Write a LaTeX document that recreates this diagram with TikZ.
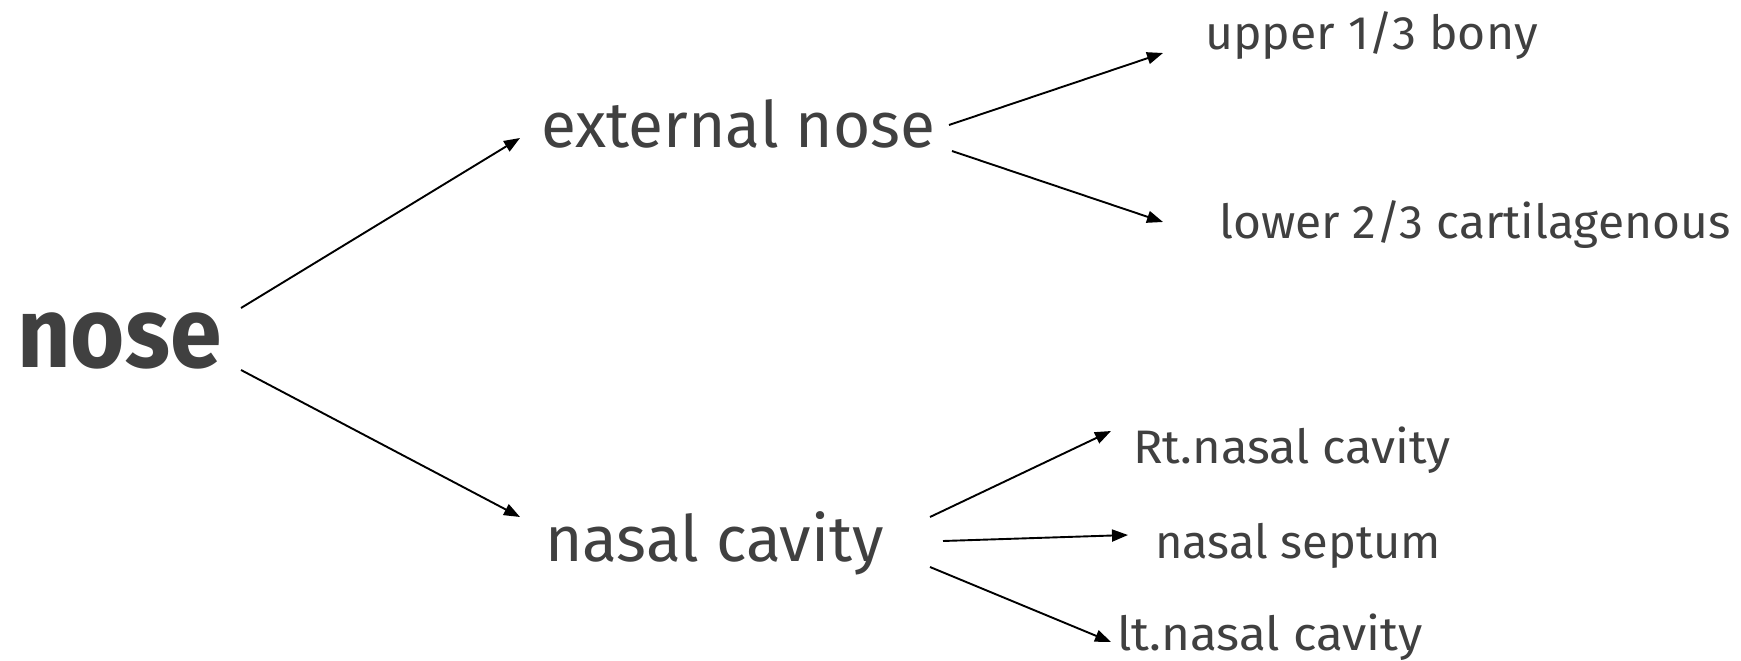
\documentclass[tikz,border=0pt]{standalone}
\usepackage{fontspec}
\setmainfont{Fira Sans}
\usetikzlibrary{arrows.meta}
\definecolor{txt}{HTML}{404040}
\tikzset{
  lbl/.style={anchor=base west, inner sep=0pt, text=txt},
  big/.style={lbl, font=\fontsize{64bp}{70bp}\selectfont},
  small/.style={lbl, font=\fontsize{47bp}{52bp}\selectfont},
  root/.style={lbl, font=\fontsize{100bp}{110bp}\selectfont\bfseries},
  arr/.style={line width=1.9bp, -{Triangle[length=16bp,width=12bp]}}
}
\begin{document}
\begin{tikzpicture}[x=1bp,y=-1bp]
\useasboundingbox (0,0) rectangle (1741,661);
\node[root]  (nose) at (17,367)  {\scalebox{0.93}[1]{nose}};
\node[big]   (ext)  at (541,148) {external nose};
\node[big]   (nc)   at (545,561) {nasal cavity};
\node[small] (up)   at (1205,50) {\scalebox{1.025}[1]{upper 1/3 bony}};
\node[small] (low)  at (1219,238) {\scalebox{1.02}[1]{lower 2/3 cartilagenous}};
\node[small] (rt)   at (1133,463) {\scalebox{1.04}[1]{Rt.nasal cavity}};
\node[small] (sep)  at (1155,558) {nasal septum};
\node[small] (lt)   at (1117,650) {\scalebox{1.05}[1]{lt.nasal cavity}};
\draw[arr] ([shift={(224,-59)}]nose.base west) -- ([shift={(-21,-10)}]ext.base west);
\draw[arr] ([shift={(224,3)}]nose.base west) -- ([shift={(-25,-44)}]nc.base west);
\draw[arr] ([shift={(408,-23)}]ext.base west) -- ([shift={(-42,3)}]up.base west);
\draw[arr] ([shift={(411,3)}]ext.base west) -- ([shift={(-56,-16)}]low.base west);
\draw[arr] ([shift={(385,-44)}]nc.base west) -- ([shift={(-22,-32)}]rt.base west);
\draw[arr] ([shift={(398,-20)}]nc.base west) -- ([shift={(-27,-23)}]sep.base west);
\draw[arr] ([shift={(385,6)}]nc.base west) -- ([shift={(-6,-8)}]lt.base west);
\end{tikzpicture}
\end{document}
